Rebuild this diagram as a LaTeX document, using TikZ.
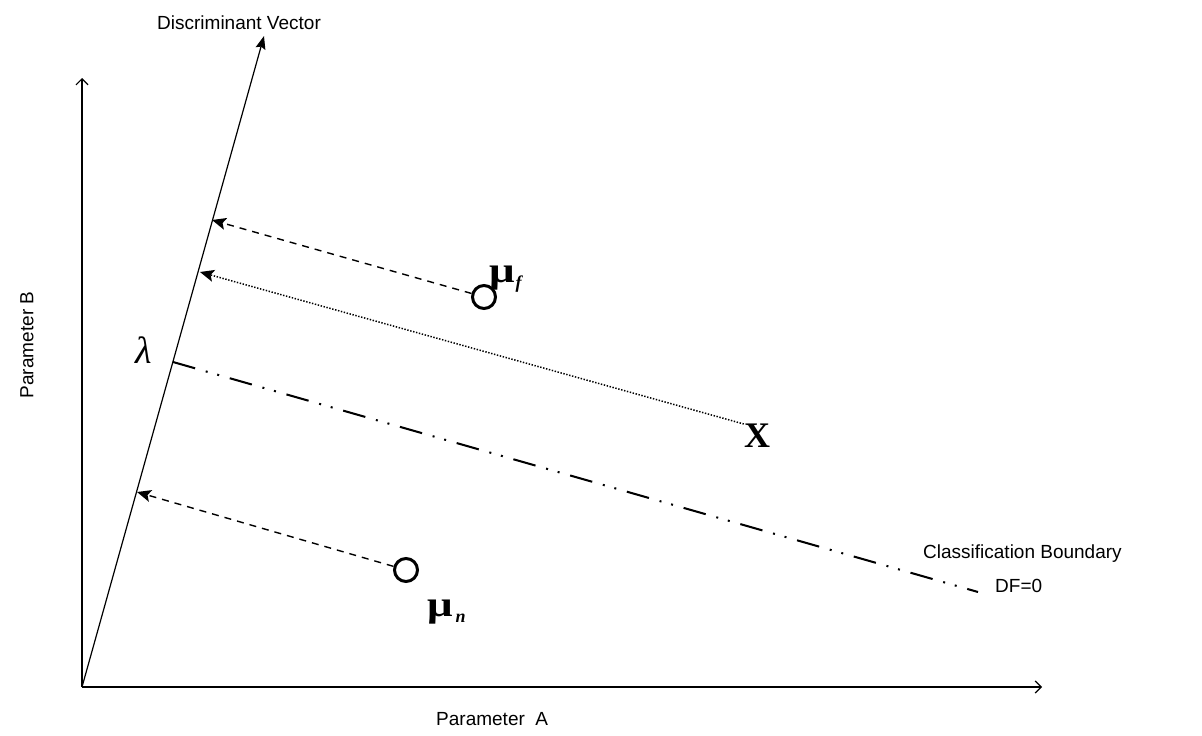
\documentclass[tikz,border=0pt]{standalone}
\usepackage{fontspec}
\setmainfont{Liberation Sans}
\newfontfamily\serifB{Liberation Serif}
\usetikzlibrary{arrows.meta,calc}
\begin{document}
\begin{tikzpicture}[x=1pt,y=-1pt,
  axis/.style={line width=1.2pt,-{Straight Barb[length=6pt,width=12pt,line width=1.2pt]}},
  dv/.style={line width=1.2pt,-{Stealth[length=13pt,width=10pt,inset=2pt]}},
  proj/.style={line width=1.4pt,dash pattern=on 7pt off 6pt,-{Stealth[length=14pt,width=12pt,inset=3pt]}},
  projdot/.style={line width=1.5pt,dash pattern=on 1.4pt off 1.6pt,-{Stealth[length=14pt,width=12pt,inset=3pt]}},
  bound/.style={line width=2pt,dash pattern=on 23pt off 11pt on 2pt off 10pt on 2pt off 11pt},
  lbl/.style={font=\fontsize{19}{22}\selectfont,inner sep=0pt},
  mean/.style={circle,draw,line width=3pt,minimum size=23pt,inner sep=0pt},
  greek/.style={inner sep=0pt,font=\serifB\bfseries\fontsize{36}{36}\selectfont},
]
\fill[white] (0,0) rectangle (1202,736);
\useasboundingbox (0,0) rectangle (1202,736);

% axes
\coordinate (O) at (82,687);
\coordinate (ytop) at (82,78);
\coordinate (xend) at (1042,687);
\coordinate (dvtip) at (264,36);
\draw[axis] (O) -- (ytop);
\draw[axis] (O) -- (xend);
\draw[dv] (O) -- (dvtip);

% labels
\node[lbl,anchor=west] (dvl) at (157,23) {Discriminant Vector};
\node[lbl,rotate=90] (pb) at (27,345) {Parameter B};
\node[lbl,anchor=west] (pa) at (436,719) {Parameter\ \ A};
\node[lbl,anchor=west] (cb) at (923,554) {Classification Boundary};
\node[lbl,anchor=west] (df) at (995,586) {DF=0};

% lambda and boundary
\node[inner sep=0pt,font=\serifB\itshape\fontsize{38}{38}\selectfont] (lam) at (144,350) {λ};
\coordinate (lamp) at (173,362);
\coordinate (cbend) at (978,592);
\draw[bound] (lamp) -- (cbend);

% means
\node[mean] (mf) at (484,297) {};
\node[mean] (mn) at (406,570) {};
\node[greek,anchor=base west] (muf) at (489,282) {\scalebox{1.25}[1]{μ}\kern1pt\raisebox{-6pt}{\fontsize{18}{18}\selectfont\itshape f}};
\node[greek,anchor=base west] (mun) at (427,616) {\scalebox{1.25}[1]{μ}\kern3pt\raisebox{-6pt}{\fontsize{18}{18}\selectfont\itshape n}};
\node[inner sep=0pt,font=\serifB\bfseries\fontsize{36}{36}\selectfont] (X) at (757,436) {X};

% projections
\coordinate (pf) at (212,220);
\coordinate (px) at (200,272);
\coordinate (pn) at (137,492);
\draw[proj] (mf) -- (pf);
\draw[projdot] (X.north west) -- (px);
\draw[proj] (mn) -- (pn);
\end{tikzpicture}
\end{document}
